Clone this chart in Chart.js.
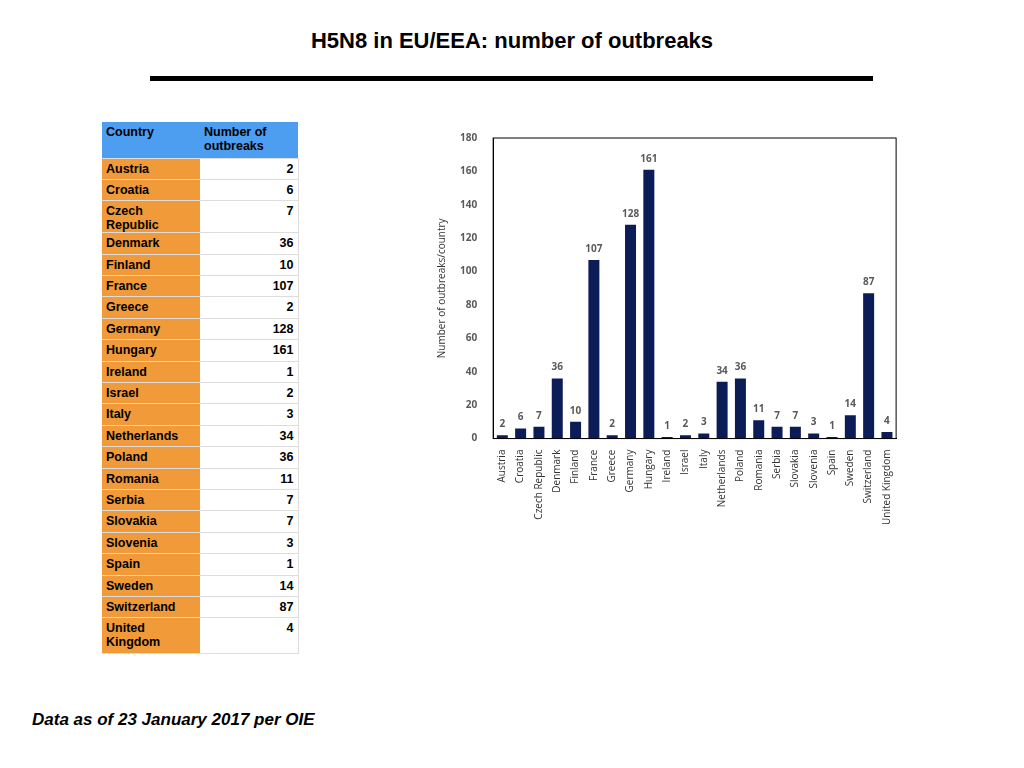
<!DOCTYPE html>
<html><head><meta charset="utf-8">
<script src="https://cdn.jsdelivr.net/npm/chart.js@4"></script>
<style>
body{margin:0;width:1024px;height:768px;background:#fff;font-family:"Liberation Sans",Arial,sans-serif;position:relative;overflow:hidden}
#title{position:absolute;top:28px;left:0;width:1024px;text-align:center;font-weight:bold;font-size:22px}
#rule{position:absolute;top:76px;left:150px;width:723px;height:5px;background:#000}
table{position:absolute;left:102px;top:122px;border-collapse:collapse;font-size:12.5px;font-weight:bold}
td{border-bottom:1px solid #ddd;padding:0 4px;height:21.4px;vertical-align:top;padding-top:3px;box-sizing:border-box}
td.c{background:#f09a3a;width:98px}
td.n{background:#fff;width:98px;text-align:right;border-right:1px solid #ddd}
tr.h td{background:#4d9df0;height:36px}
#foot{position:absolute;left:32px;top:710px;font-style:italic;font-weight:bold;font-size:17px}
#wrap{position:absolute;left:432px;top:124px;width:470px;height:404px}
</style></head><body>
<div id="title">H5N8 in EU/EEA: number of outbreaks</div>
<div id="rule"></div>
<table id="tbl"></table>
<div id="wrap"><canvas id="c"></canvas></div>
<div id="foot">Data as of 23 January 2017 per OIE</div>
<script>
const countries=["Austria","Croatia","Czech Republic","Denmark","Finland","France","Greece","Germany","Hungary","Ireland","Israel","Italy","Netherlands","Poland","Romania","Serbia","Slovakia","Slovenia","Spain","Sweden","Switzerland","United Kingdom"];
const outbreaks=[2,6,7,36,10,107,2,128,161,1,2,3,34,36,11,7,7,3,1,14,87,4];
const yTicks={min:0,max:180,step:20};
const tbl=document.getElementById('tbl');
let h='<tr class="h"><td class="c" style="background:#4d9df0">Country</td><td style="width:98px">Number of<br>outbreaks</td></tr>';
countries.forEach((c,i)=>{const tall=c==="United Kingdom";h+=`<tr><td class="c"${tall?' style="height:36px"':''}>${tall?'United<br>Kingdom':c}</td><td class="n">${outbreaks[i]}</td></tr>`;});
tbl.innerHTML=h;
const extras={id:'ex',afterDatasetsDraw(ch){const ctx=ch.ctx,a=ch.chartArea;ctx.save();ctx.strokeStyle='#000';ctx.lineWidth=1;ctx.strokeRect(a.left,a.top,a.right-a.left,a.bottom-a.top);
ctx.fillStyle='#595959';ctx.font='bold 10px "Open Sans",sans-serif';ctx.textAlign='center';ctx.textBaseline='bottom';
ch.getDatasetMeta(0).data.forEach((b,i)=>{ctx.fillText(outbreaks[i],b.x-(i===0||i===9||i===18?0:0),b.y-6);});ctx.restore();}};
new Chart(document.getElementById('c'),{type:'bar',data:{labels:countries,datasets:[{data:outbreaks,backgroundColor:'#0c1c56',barPercentage:0.6,categoryPercentage:1}]},
options:{responsive:true,maintainAspectRatio:false,animation:false,layout:{padding:{top:6,right:2}},plugins:{legend:{display:false},tooltip:{enabled:false}},
scales:{x:{grid:{display:false},border:{color:'#000'},ticks:{color:'#333',font:{size:10,family:'"Open Sans",sans-serif'},maxRotation:90,minRotation:90,autoSkip:false}},
y:{min:yTicks.min,max:yTicks.max,grid:{display:false},border:{color:'#000'},ticks:{stepSize:yTicks.step,color:'#595959',font:{size:10,weight:'bold',family:'"Open Sans",sans-serif'},padding:8},
title:{display:true,text:'Number of outbreaks/country',color:'#333',font:{size:10,family:'"Open Sans",sans-serif'}}}}},plugins:[extras]});
</script></body></html>
